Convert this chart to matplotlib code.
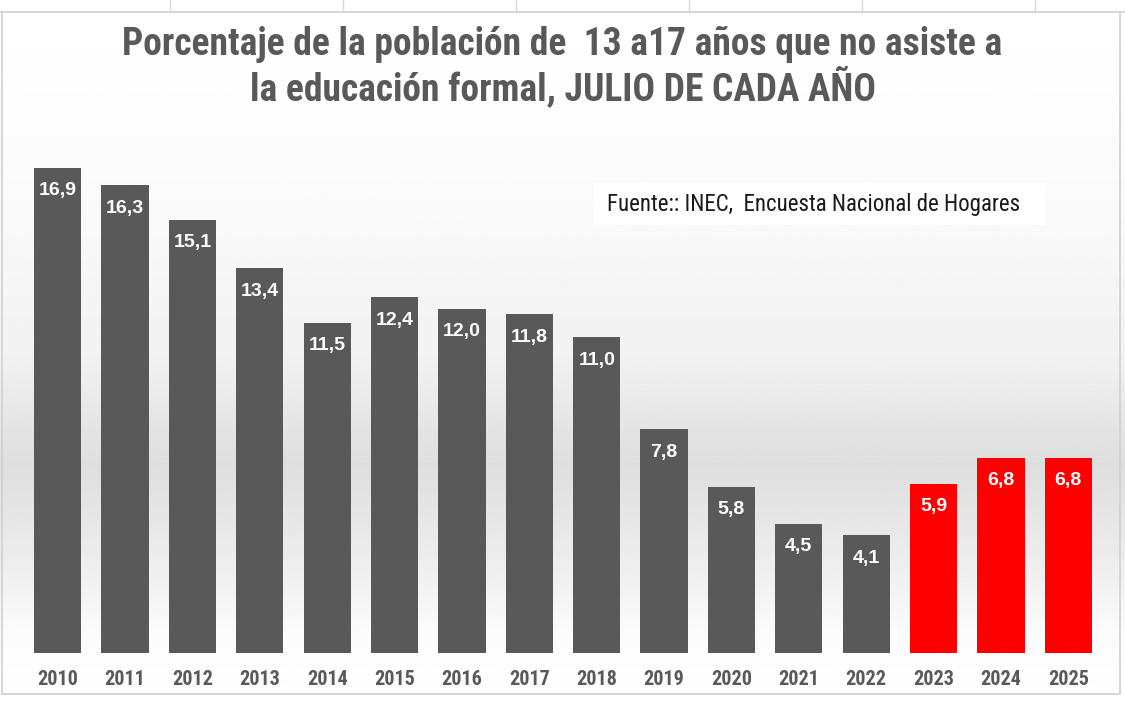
import matplotlib
matplotlib.use("Agg")
import matplotlib.pyplot as plt
import numpy as np
from matplotlib.patches import Rectangle

years = ["2010", "2011", "2012", "2013", "2014", "2015", "2016", "2017",
         "2018", "2019", "2020", "2021", "2022", "2023", "2024", "2025"]
values = [16.9, 16.3, 15.1, 13.4, 11.5, 12.4, 12.0, 11.8, 11.0, 7.8, 5.8, 4.5, 4.1, 5.9, 6.8, 6.8]
highlight = [False] * 13 + [True] * 3
labels = [f"{v:.1f}".replace(".", ",") for v in values]

title = "Porcentaje de la población de  13 a17 años que no asiste a\nla educación formal, JULIO DE CADA AÑO"
source = "Fuente:: INEC,  Encuesta Nacional de Hogares"

COND = ["Roboto Condensed", "DejaVu Sans"]

W, H = 1125, 704
fig = plt.figure(figsize=(W / 100, H / 100), dpi=100)

# background gradient
bg = fig.add_axes([0, 0, 1, 1])
bg.set_axis_off()
yy = np.linspace(0, 1, 400)  # 0 = top, 1 = bottom
prof = np.interp(yy, [0, 0.25, 0.5, 0.66, 0.8, 0.9, 1.0],
                 [1.0, 0.985, 0.95, 0.87, 0.93, 0.985, 1.0])
img = np.repeat(prof[:, None], 10, axis=1)
bg.imshow(img, cmap="gray", vmin=0, vmax=1, aspect="auto", extent=[0, 1, 0, 1], origin="upper")
bg.set_xlim(0, 1)
bg.set_ylim(0, 1)
# frame
bg.add_patch(Rectangle((2 / W, 10 / H), 1118 / W, 684 / H, fill=False, ec="#d0d0d0", lw=1.2))
bg.add_patch(Rectangle((0, 1 - 12 / H), 1, 12 / H, fc="white", ec="none"))
bg.plot([0, 1], [1 - 12 / H, 1 - 12 / H], color="#cfcfcf", lw=1.2)
for xpx in [170, 343, 516, 689, 862, 1035]:
    bg.plot([xpx / W, xpx / W], [1 - 12 / H, 1], color="#d8d8d8", lw=1)

# main axes: x from 24 to 1102 px, baseline at 653 px
left, right = 24, 1102
base = 653
ymax = 18.0
top_px = base - ymax * 28.7
ax = fig.add_axes([left / W, (H - base) / H, (right - left) / W, (base - top_px) / H])
ax.set_facecolor("none")
x = np.arange(len(years))
colors = ["#FF0000" if h else "#595959" for h in highlight]
ax.bar(x, values, width=0.70, color=colors, edgecolor="none", zorder=2)
ax.set_xlim(-0.5, len(years) - 0.5)
ax.set_ylim(0, ymax)
for s in ax.spines.values():
    s.set_visible(False)
ax.set_yticks([])
ax.set_xticks(x)
ax.set_xticklabels(years, fontsize=14.5, fontweight="bold", color="#595959", family=COND)
ax.tick_params(axis="x", length=0, pad=12)

for xi, v, lab in zip(x, values, labels):
    ax.annotate(lab, (xi, v), xytext=(0, -23), textcoords="offset pixels",
                ha="center", va="center", color="white", fontsize=14, fontweight="bold",
                family=["Liberation Sans", "DejaVu Sans"], zorder=3)

# title
fig.text(0.5, 1 - 67 / H, title, ha="center", va="center", fontsize=27, fontweight="bold",
         color="#595959", linespacing=1.12, family=COND)

# source box
bg.add_patch(Rectangle((593 / W, 1 - 225 / H), 452 / W, 42 / H, fc="white", ec="none", zorder=5))
fig.text(607 / W, 1 - 204 / H, source, ha="left", va="center", fontsize=16.5, color="#1a1a1a",
         family=COND, zorder=6)

fig.savefig("out.png", dpi=100)
